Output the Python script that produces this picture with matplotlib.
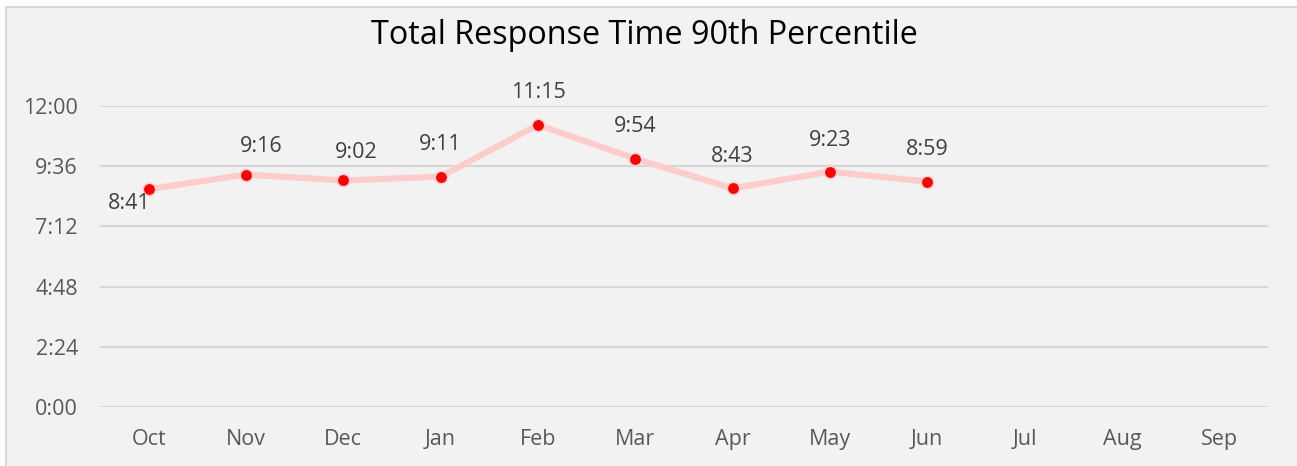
import matplotlib.pyplot as plt
from matplotlib.patches import Rectangle
from matplotlib.ticker import FuncFormatter

plt.rcParams['font.family'] = ['Open Sans', 'DejaVu Sans']

months = ['Oct', 'Nov', 'Dec', 'Jan', 'Feb', 'Mar', 'Apr', 'May', 'Jun', 'Jul', 'Aug', 'Sep']
# 90th percentile response times, as m:ss
labels = ['8:41', '9:16', '9:02', '9:11', '11:15', '9:54', '8:43', '9:23', '8:59']
seconds = [int(s.split(':')[0]) * 60 + int(s.split(':')[1]) for s in labels]
yticks = [0, 144, 288, 432, 576, 720]

# label offsets in pixels (dx, dy) from the point
offsets = [(-19, -14), (15, 28), (13, 28), (0, 32), (0, 32), (0, 32), (0, 32), (0, 31), (0, 32)]

fig = plt.figure(figsize=(12.97, 4.66), dpi=100)
fig.patch.set_facecolor('white')
fig.patches.append(Rectangle((6 / 1297, -0.01), 1.0, 1 - 7 / 466 + 0.01, transform=fig.transFigure,
                             facecolor='#F2F2F2', edgecolor='#D9D9D9', linewidth=1.5, zorder=-10))

ax = fig.add_axes([100 / 1297, 1 - 407 / 466, 1168 / 1297, 301 / 466])
ax.set_facecolor('none')

x = list(range(len(seconds)))
ax.plot(x, seconds, color='#FFCCCC', linewidth=4.5, solid_capstyle='round', zorder=3)
ax.plot(x, seconds, linestyle='none', marker='o', markersize=9, markerfacecolor='#FF0000',
        markeredgecolor='#FFD0D0', markeredgewidth=1.2, zorder=4)

for xi, yi, lab, (dx, dy) in zip(x, seconds, labels, offsets):
    ax.annotate(lab, (xi, yi), xytext=(dx, dy), textcoords='offset pixels',
                ha='center', va='center', fontsize=15.5, color='#404040', zorder=5)

ax.set_xlim(-0.5, len(months) - 0.5)
ax.set_ylim(0, 720)
ax.set_xticks(range(len(months)))
ax.set_xticklabels(months)
ax.set_yticks(yticks)
ax.yaxis.set_major_formatter(FuncFormatter(lambda v, p: '%d:%02d' % (int(v) // 60, int(v) % 60)))
ax.grid(axis='y', color='#D6D6D6', linewidth=1.5)
ax.set_axisbelow(True)
for s in ax.spines.values():
    s.set_visible(False)
ax.tick_params(axis='both', length=0, labelsize=15.5, labelcolor='#595959')
ax.tick_params(axis='x', pad=16)
ax.tick_params(axis='y', pad=16)

fig.text(0.4965, 1 - 36 / 466, 'Total Response Time 90th Percentile', ha='center', va='center',
         fontsize=23.3, color='black')

plt.savefig('out.png', dpi=100)
